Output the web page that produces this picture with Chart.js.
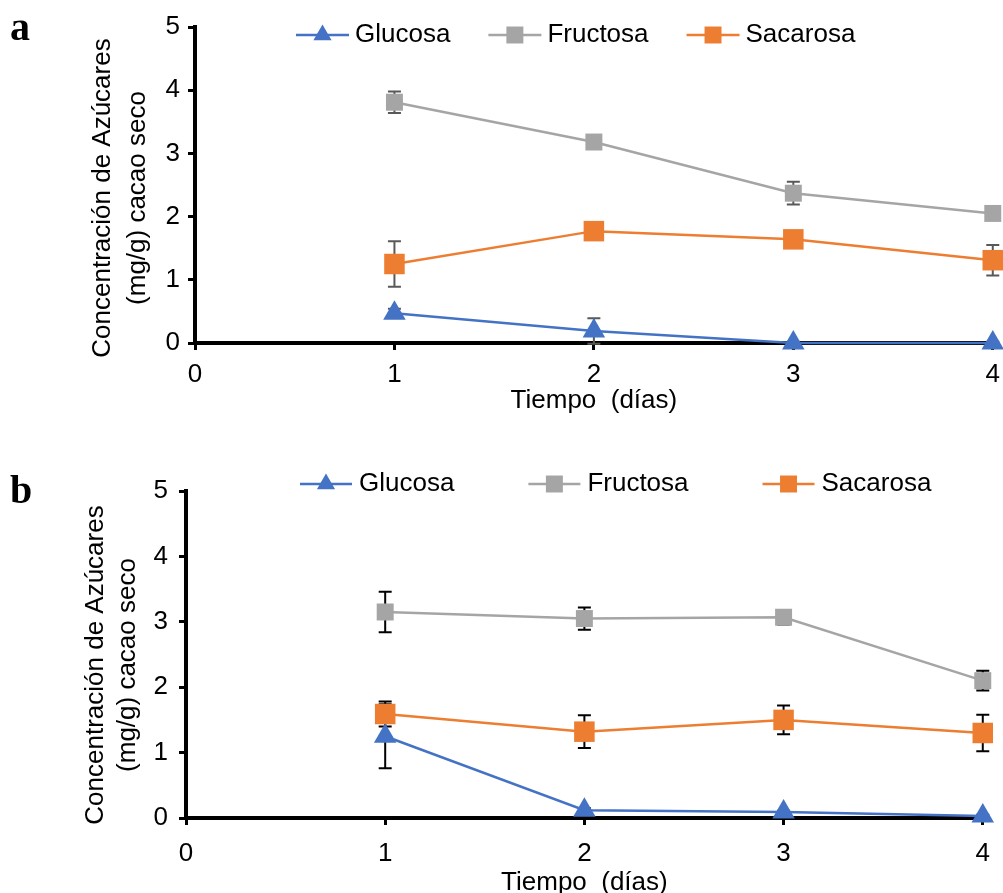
<!DOCTYPE html>
<html>
<head>
<meta charset="utf-8">
<script src="https://cdn.jsdelivr.net/npm/chart.js@4/dist/chart.umd.min.js"></script>
<style>
body { margin: 0; width: 1003px; height: 893px; overflow: hidden; background: #fff; position: relative; }
canvas { position: absolute; left: 0; }
.tag { position: absolute; left: 10px; font: bold 40px "Liberation Serif", "Times New Roman", serif; line-height: 40px; color: #000; }
</style>
</head>
<body>
<canvas id="chart_a" width="1009" height="430" style="top:0px"></canvas>
<canvas id="chart_b" width="1003" height="470" style="top:450px"></canvas>
<div class="tag" style="top:7px">a</div>
<div class="tag" style="top:470px">b</div>
<script>
const days = [1, 2, 3, 4]
const x_ticks = [0, 1, 2, 3, 4]
const y_ticks = [0, 1, 2, 3, 4, 5]
const series_names = ["Glucosa", "Fructosa", "Sacarosa"]
const series_colors = ["#4472C4", "#A5A5A5", "#ED7D31"]
const point_styles = ["triangle", "rect", "rect"]
const point_radius = [13, 12, 14.5]
const x_title = "Tiempo  (días)"
const y_title = ["Concentración de Azúcares", "(mg/g) cacao seco"]

// panel a
const a_glucosa = [0.47, 0.19, 0.00, 0.00]
const a_glucosa_err = [0.07, 0.20, 0.02, 0.02]
const a_fructosa = [3.81, 3.18, 2.37, 2.05]
const a_fructosa_err = [0.17, 0.04, 0.18, 0.05]
const a_sacarosa = [1.25, 1.77, 1.64, 1.31]
const a_sacarosa_err = [0.36, 0.05, 0.05, 0.24]

// panel b
const b_glucosa = [1.25, 0.12, 0.09, 0.03]
const b_glucosa_err = [0.49, 0.03, 0.02, 0.02]
const b_fructosa = [3.15, 3.05, 3.07, 2.10]
const b_fructosa_err = [0.31, 0.17, 0.11, 0.15]
const b_sacarosa = [1.59, 1.32, 1.50, 1.30]
const b_sacarosa_err = [0.19, 0.25, 0.22, 0.28]

Chart.defaults.font.family = "'Liberation Sans', Arial, sans-serif"
Chart.defaults.font.size = 26
Chart.defaults.color = "#000"

function draw_marker(ctx, style, x, y, r){
  ctx.beginPath()
  if(style == "triangle"){
    ctx.moveTo(x, y - r)
    ctx.lineTo(x + r * Math.sqrt(3) / 2, y + r / 2)
    ctx.lineTo(x - r * Math.sqrt(3) / 2, y + r / 2)
    ctx.closePath()
  } else {
    let s = r * Math.SQRT1_2
    ctx.rect(x - s, y - s, 2 * s, 2 * s)
  }
  ctx.fill()
}

const errorBars = {
  id: "errorBars",
  beforeDatasetsDraw(chart, args, opts){
    const ctx = chart.ctx
    const yscale = chart.scales.y
    ctx.save()
    ctx.strokeStyle = opts.color
    ctx.lineWidth = opts.width
    chart.data.datasets.forEach((ds, i) => {
      chart.getDatasetMeta(i).data.forEach((pt, k) => {
        let err = ds.errors[k]
        if(!err) return
        let v = ds.data[k].y
        let top = yscale.getPixelForValue(v + err)
        let bot = yscale.getPixelForValue(v - err)
        ctx.beginPath()
        ctx.moveTo(pt.x, top); ctx.lineTo(pt.x, bot)
        ctx.moveTo(pt.x - opts.cap, top); ctx.lineTo(pt.x + opts.cap, top)
        ctx.moveTo(pt.x - opts.cap, bot); ctx.lineTo(pt.x + opts.cap, bot)
        ctx.stroke()
      })
    })
    ctx.restore()
  }
}

const lineLegend = {
  id: "lineLegend",
  afterDraw(chart, args, opts){
    const ctx = chart.ctx
    let x = opts.x
    ctx.save()
    ctx.font = "26px 'Liberation Sans', Arial, sans-serif"
    ctx.textBaseline = "middle"
    chart.data.datasets.forEach((ds, i) => {
      ctx.strokeStyle = ds.borderColor
      ctx.lineWidth = ds.borderWidth
      ctx.beginPath()
      ctx.moveTo(x, opts.y); ctx.lineTo(x + opts.lineLen, opts.y)
      ctx.stroke()
      ctx.fillStyle = ds.backgroundColor
      draw_marker(ctx, ds.pointStyle, x + opts.lineLen / 2, opts.y, ds.pointStyle == "triangle" ? 10.5 : 12)
      ctx.fillStyle = "#000"
      let tx = x + opts.lineLen + opts.textGap
      ctx.fillText(ds.label, tx, opts.y)
      x = tx + ctx.measureText(ds.label).width + opts.itemGap
    })
    ctx.restore()
  }
}

const yTitle = {
  id: "yTitle",
  afterDraw(chart, args, opts){
    const ctx = chart.ctx
    ctx.save()
    ctx.font = "26px 'Liberation Sans', Arial, sans-serif"
    ctx.fillStyle = "#000"
    ctx.textAlign = "center"
    ctx.textBaseline = "middle"
    opts.lines.forEach((line, i) => {
      ctx.save()
      ctx.translate(opts.x + i * opts.gap, opts.cy)
      ctx.rotate(-Math.PI / 2)
      ctx.fillText(line, 0, 0)
      ctx.restore()
    })
    ctx.restore()
  }
}

function make_dataset(i, values, errors){
  return {
    label: series_names[i],
    data: values.map((v, k) => ({x: days[k], y: v})),
    errors: errors,
    borderColor: series_colors[i],
    backgroundColor: series_colors[i],
    borderWidth: 2.5,
    pointStyle: point_styles[i],
    pointRadius: point_radius[i],
    pointBorderWidth: 0,
    order: 3 - i,
    tension: 0,
    clip: false
  }
}

function make_chart(canvas_id, datasets, cfg){
  return new Chart(document.getElementById(canvas_id), {
    type: "line",
    data: {datasets: datasets},
    options: {
      responsive: false,
      animation: false,
      events: [],
      layout: {padding: {left: 0, top: cfg.top, right: cfg.right, bottom: 0}},
      plugins: {
        legend: {display: false},
        tooltip: {enabled: false},
        errorBars: {color: cfg.errColor, width: 2, cap: 6.5},
        lineLegend: cfg.legend,
        yTitle: {lines: y_title, x: cfg.yTitleX, gap: cfg.yTitleGap, cy: cfg.yTitleCy}
      },
      scales: {
        x: {
          type: "linear", min: 0, max: 4,
          afterBuildTicks: s => { s.ticks = x_ticks.map(v => ({value: v})) },
          grid: {drawOnChartArea: false, drawTicks: true, tickLength: 7, color: "#000", lineWidth: 3},
          border: {color: "#000", width: 4},
          ticks: {padding: cfg.xTickPad, maxRotation: 0, color: "#000"},
          title: {display: true, text: x_title, color: "#000", padding: {top: 0, bottom: cfg.xTitlePad}},
          afterFit: s => { s.height = cfg.xHeight }
        },
        y: {
          min: 0, max: 5,
          afterBuildTicks: s => { s.ticks = y_ticks.map(v => ({value: v})) },
          grid: {drawOnChartArea: false, drawTicks: true, tickLength: 7, color: "#000", lineWidth: 3},
          border: {color: "#000", width: 4},
          ticks: {padding: cfg.yTickPad, color: "#000"},
          afterFit: s => { s.width = cfg.yWidth }
        }
      }
    },
    plugins: [errorBars, lineLegend, yTitle]
  })
}

make_chart("chart_a", [
  make_dataset(0, a_glucosa, a_glucosa_err),
  make_dataset(1, a_fructosa, a_fructosa_err),
  make_dataset(2, a_sacarosa, a_sacarosa_err)
], {
  top: 27, right: 9, yWidth: 195, xHeight: 87,
  xTickPad: 9, xTitlePad: 14, yTickPad: 8,
  yTitleX: 103, yTitleGap: 35, yTitleCy: 198,
  errColor: "#595959",
  legend: {x: 296, y: 35, lineLen: 53, textGap: 6, itemGap: 38}
})

make_chart("chart_b", [
  make_dataset(0, b_glucosa, b_glucosa_err),
  make_dataset(1, b_fructosa, b_fructosa_err),
  make_dataset(2, b_sacarosa, b_sacarosa_err)
], {
  top: 41, right: 19, yWidth: 186, xHeight: 102,
  xTickPad: 13, xTitlePad: 22, yTickPad: 11,
  yTitleX: 96, yTitleGap: 32, yTitleCy: 215,
  errColor: "#000",
  legend: {x: 300, y: 34, lineLen: 52, textGap: 7, itemGap: 74}
})
</script>
</body>
</html>
